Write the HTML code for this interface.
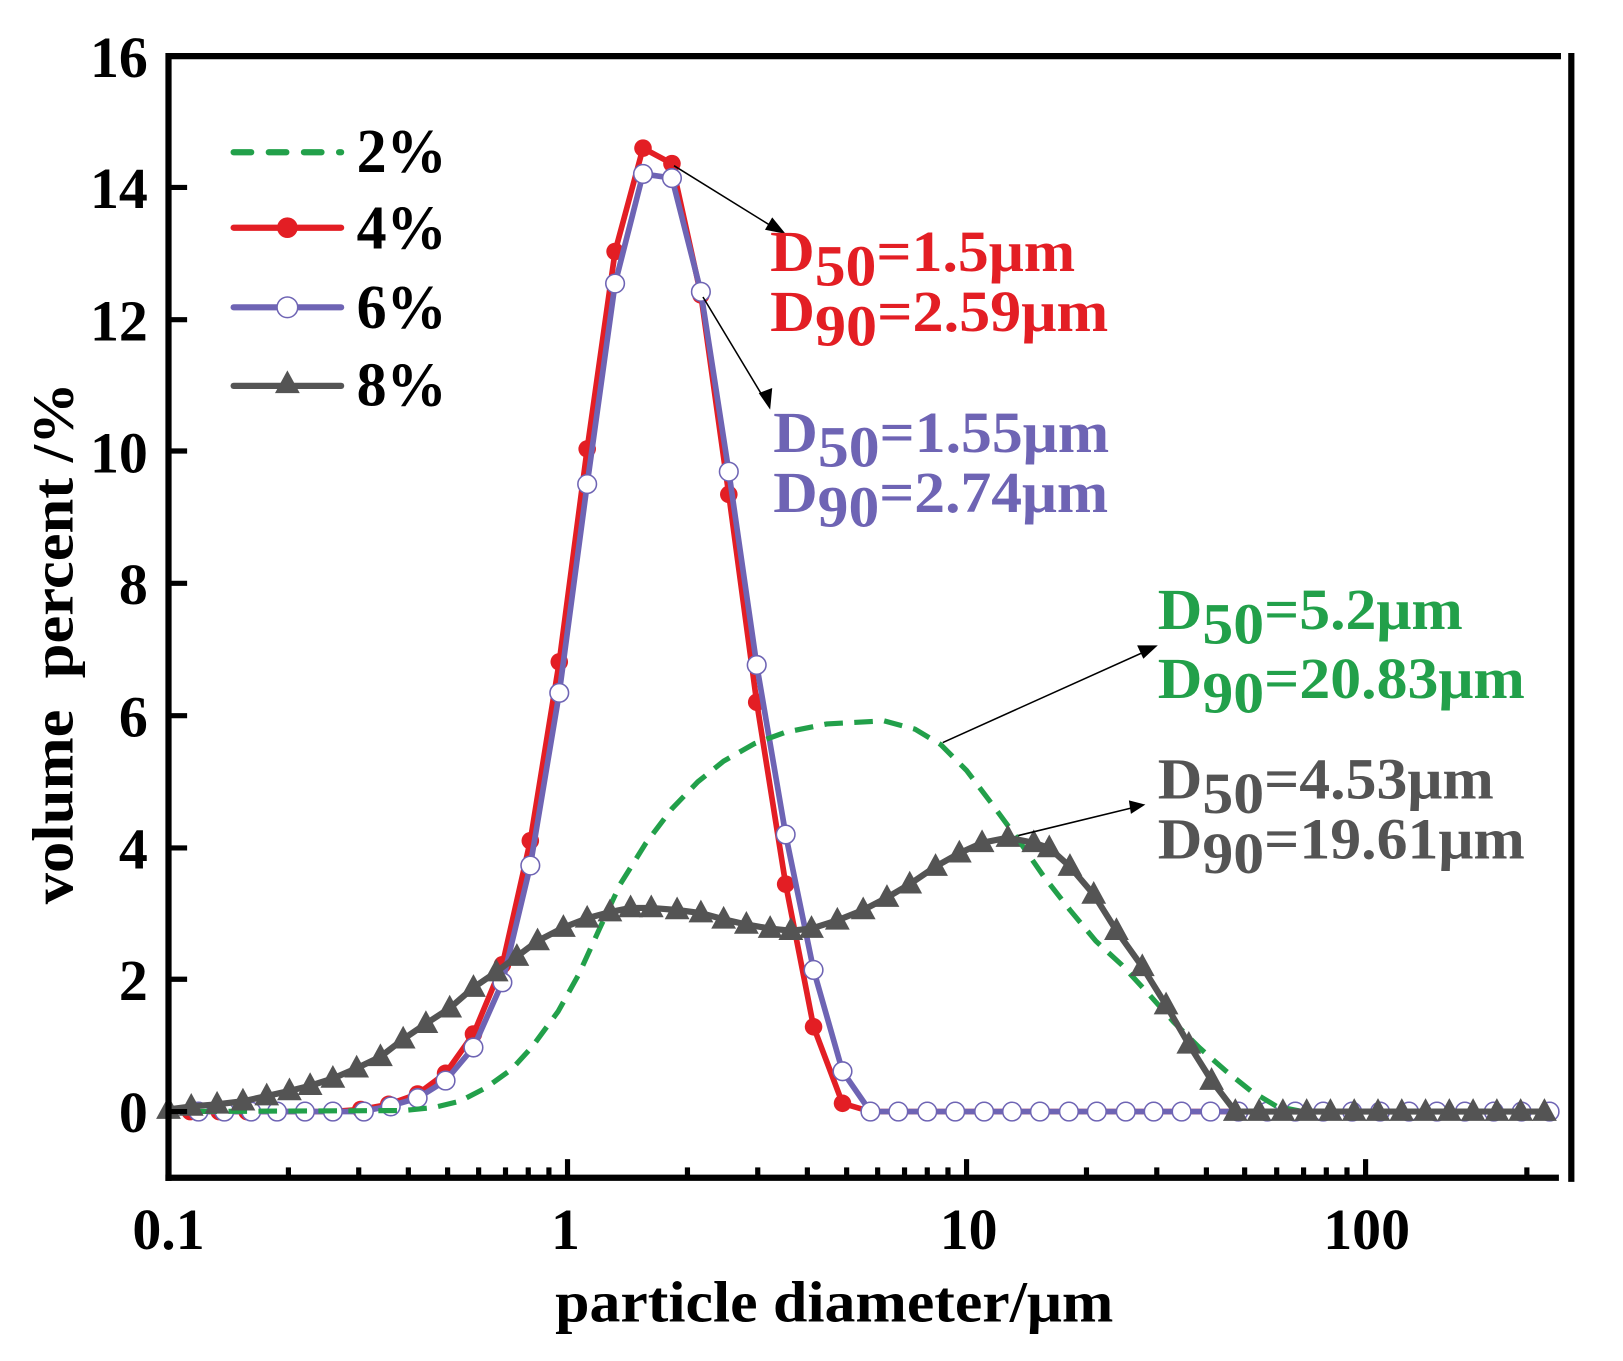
<!DOCTYPE html>
<html><head><meta charset="utf-8"><style>
html,body{margin:0;padding:0;background:#fff;}
svg{display:block;}
text{font-family:"Liberation Serif","Times New Roman",serif;font-weight:bold;}
</style></head><body>
<svg width="1623" height="1361" viewBox="0 0 1570 1316" xmlns="http://www.w3.org/2000/svg">
<defs>
<marker id="mr" markerUnits="userSpaceOnUse" markerWidth="22" markerHeight="22" refX="11" refY="11"><circle cx="11" cy="11" r="8.5" fill="#e31e24"/></marker>
<marker id="mb" markerUnits="userSpaceOnUse" markerWidth="24" markerHeight="24" refX="12" refY="12"><circle cx="12" cy="12" r="9" fill="#fff" stroke="#6e64b4" stroke-width="1.5"/></marker>
<marker id="mg" markerUnits="userSpaceOnUse" markerWidth="26" markerHeight="26" refX="13" refY="14"><polygon points="13,1 25,23 1,23" fill="#545454"/></marker>
</defs>
<polyline fill="none" stroke="#e31e24" stroke-width="5.5" stroke-linejoin="round" points="163,1075 321,1075 349,1073 376,1068 404,1058 431,1038 458,1000 486,933 513,813 541,640 568,434 595,243 622,143 650,158 678,285 705,478 732,679 760,855 787,993 815,1067 842,1075 1505,1075"/>
<polyline fill="none" stroke="none" marker-start="url(#mr)" marker-mid="url(#mr)" marker-end="url(#mr)" points="184,1075 212,1075 239,1075 267,1075 294,1075 321,1075 349,1073 376,1068 404,1058 431,1038 458,1000 486,933 513,813 541,640 568,434 595,243 622,143 650,158 678,285 705,478 732,679 760,855 787,993 815,1067 842,1075"/>
<polyline fill="none" stroke="#6e64b4" stroke-width="5.5" stroke-linejoin="round" points="163,1075 349,1075 376,1070 404,1062 431,1045 458,1013 486,950 513,837 541,670 568,468 595,274 622,168 650,172 678,282 705,456 732,643 760,807 787,938 815,1036 842,1075 1505,1075"/>
<polyline fill="none" stroke="none" marker-start="url(#mb)" marker-mid="url(#mb)" marker-end="url(#mb)" points="192,1075 217,1075 243,1075 268,1075 295,1075 322,1075 352,1075 378,1070 404,1062 431,1045 458,1013 486,950 513,837 541,670 568,468 595,274 622,168 650,172 678,282 705,456 732,643 760,807 787,938 815,1036 842,1075 869,1075 897,1075 924,1075 952,1075 979,1075 1006,1075 1034,1075 1061,1075 1089,1075 1116,1075 1143,1075 1171,1075 1198,1075 1226,1075 1253,1075 1280,1075 1308,1075 1335,1075 1363,1075 1390,1075 1417,1075 1445,1075 1472,1075 1499,1075"/>
<polyline fill="none" stroke="#22a04a" stroke-width="5" stroke-dasharray="18,11" stroke-linejoin="round" points="163,1075 390,1074 420,1071 445,1065 470,1052 495,1034 515,1012 540,978 560,942 580,898 600,855 625,815 650,782 675,756 700,736 730,719 760,708 800,700 855,697 885,705 910,720 935,745 960,778 985,812 1010,848 1035,880 1060,910 1085,933 1110,960 1135,988 1160,1013 1185,1035 1210,1055 1235,1070 1260,1075 1505,1075"/>
<polyline fill="none" stroke="#545454" stroke-width="6" stroke-linejoin="round" marker-start="url(#mg)" marker-mid="url(#mg)" marker-end="url(#mg)" points="163,1073 185,1070 210,1068 235,1065 258,1060 280,1055 300,1050 322,1043 345,1033 368,1022 390,1005 412,990 435,975 458,955 480,940 500,925 520,910 545,897 568,888 590,882 610,878 630,878 655,880 678,883 700,889 722,894 745,898 765,900 785,898 810,890 835,880 858,868 880,855 905,838 928,825 950,815 975,810 1000,815 1015,820 1035,838 1058,865 1080,900 1105,935 1128,972 1150,1010 1172,1045 1195,1075 1218,1075 1241,1075 1264,1075 1287,1075 1310,1075 1333,1075 1356,1075 1379,1075 1402,1075 1425,1075 1448,1075 1471,1075 1494,1075"/>
<g stroke="#000" fill="none">
<line x1="163" y1="54" x2="1510" y2="54" stroke-width="6"/>
<line x1="163" y1="51" x2="163" y2="1142" stroke-width="6"/>
<line x1="160" y1="1139" x2="1508" y2="1139" stroke-width="6"/>
<line x1="1520" y1="51" x2="1520" y2="1143" stroke-width="6"/>
</g>
<g stroke="#000" stroke-width="5">
<line x1="279" y1="1139" x2="279" y2="1129"/><line x1="347" y1="1139" x2="347" y2="1129"/><line x1="395" y1="1139" x2="395" y2="1129"/><line x1="433" y1="1139" x2="433" y2="1129"/><line x1="463" y1="1139" x2="463" y2="1129"/><line x1="489" y1="1139" x2="489" y2="1129"/><line x1="511" y1="1139" x2="511" y2="1129"/><line x1="531" y1="1139" x2="531" y2="1129"/><line x1="549" y1="1139" x2="549" y2="1121"/>
<line x1="665" y1="1139" x2="665" y2="1129"/><line x1="733" y1="1139" x2="733" y2="1129"/><line x1="781" y1="1139" x2="781" y2="1129"/><line x1="819" y1="1139" x2="819" y2="1129"/><line x1="849" y1="1139" x2="849" y2="1129"/><line x1="875" y1="1139" x2="875" y2="1129"/><line x1="897" y1="1139" x2="897" y2="1129"/><line x1="917" y1="1139" x2="917" y2="1129"/><line x1="935" y1="1139" x2="935" y2="1121"/>
<line x1="1051" y1="1139" x2="1051" y2="1129"/><line x1="1119" y1="1139" x2="1119" y2="1129"/><line x1="1167" y1="1139" x2="1167" y2="1129"/><line x1="1204" y1="1139" x2="1204" y2="1129"/><line x1="1235" y1="1139" x2="1235" y2="1129"/><line x1="1261" y1="1139" x2="1261" y2="1129"/><line x1="1283" y1="1139" x2="1283" y2="1129"/><line x1="1303" y1="1139" x2="1303" y2="1129"/><line x1="1321" y1="1139" x2="1321" y2="1121"/>
<line x1="1477" y1="1139" x2="1477" y2="1129"/>
<line x1="163" y1="1075" x2="181" y2="1075"/><line x1="163" y1="947" x2="181" y2="947"/><line x1="163" y1="820" x2="181" y2="820"/><line x1="163" y1="692" x2="181" y2="692"/><line x1="163" y1="564" x2="181" y2="564"/><line x1="163" y1="436" x2="181" y2="436"/><line x1="163" y1="309" x2="181" y2="309"/><line x1="163" y1="181" x2="181" y2="181"/>
</g>
<g font-size="56" text-anchor="end">
<text x="143" y="74">16</text><text x="143" y="201">14</text><text x="143" y="329">12</text>
<text x="143" y="457">10</text><text x="143" y="584">8</text><text x="143" y="712">6</text>
<text x="143" y="840">4</text><text x="143" y="967">2</text><text x="143" y="1095">0</text>
</g>
<g font-size="56" text-anchor="middle">
<text x="163" y="1208">0.1</text><text x="547" y="1208">1</text><text x="937" y="1208">10</text><text x="1322" y="1208">100</text>
</g>
<text x="537" y="1278" font-size="56" textLength="540" lengthAdjust="spacingAndGlyphs">particle diameter/μm</text>
<text transform="translate(70,622) rotate(-90)" font-size="56" text-anchor="middle" textLength="505" lengthAdjust="spacingAndGlyphs" xml:space="preserve">volume  percent /%</text>
<line x1="226" y1="147" x2="330" y2="147" stroke="#22a04a" stroke-width="6" stroke-dasharray="17,17" stroke-linecap="round"/>
<line x1="226" y1="220" x2="330" y2="220" stroke="#e31e24" stroke-width="6" stroke-linecap="round"/>
<circle cx="278" cy="220" r="10" fill="#e31e24"/>
<line x1="226" y1="297" x2="330" y2="297" stroke="#6e64b4" stroke-width="6" stroke-linecap="round"/>
<circle cx="278" cy="297" r="10" fill="#fff" stroke="#6e64b4" stroke-width="1.5"/>
<line x1="226" y1="373" x2="330" y2="373" stroke="#545454" stroke-width="6" stroke-linecap="round"/>
<polygon points="278,358 290,380 266,380" fill="#545454"/>
<g font-size="60">
<text x="345" y="166" textLength="87" lengthAdjust="spacingAndGlyphs">2%</text><text x="345" y="240" textLength="87" lengthAdjust="spacingAndGlyphs">4%</text><text x="345" y="317" textLength="87" lengthAdjust="spacingAndGlyphs">6%</text><text x="345" y="392" textLength="87" lengthAdjust="spacingAndGlyphs">8%</text>
</g>
<g stroke="#000" stroke-width="1.5">
<line x1="652" y1="160" x2="752" y2="222"/>
<line x1="680" y1="287" x2="742" y2="390"/>
<line x1="912" y1="718" x2="1112" y2="628"/>
<line x1="985" y1="808" x2="1100" y2="780"/>
</g>
<g fill="#000">
<polygon points="760,226 740,222 747,210"/>
<polygon points="745,396 734,380 747,375"/>
<polygon points="1120,624 1100,624 1106,637"/>
<polygon points="1108,778 1092,774 1094,787"/>
</g>
<g font-size="56">
<text x="745" y="262" fill="#e31e24" textLength="295" lengthAdjust="spacingAndGlyphs">D<tspan dy="14">50</tspan><tspan dy="-14">=1.5μm</tspan></text>
<text x="745" y="320" fill="#e31e24" textLength="327" lengthAdjust="spacingAndGlyphs">D<tspan dy="14">90</tspan><tspan dy="-14">=2.59μm</tspan></text>
<text x="748" y="437" fill="#6e64b4" textLength="325" lengthAdjust="spacingAndGlyphs">D<tspan dy="14">50</tspan><tspan dy="-14">=1.55μm</tspan></text>
<text x="748" y="495" fill="#6e64b4" textLength="324" lengthAdjust="spacingAndGlyphs">D<tspan dy="14">90</tspan><tspan dy="-14">=2.74μm</tspan></text>
<text x="1120" y="608" fill="#22a04a" textLength="295" lengthAdjust="spacingAndGlyphs">D<tspan dy="14">50</tspan><tspan dy="-14">=5.2μm</tspan></text>
<text x="1120" y="675" fill="#22a04a" textLength="355" lengthAdjust="spacingAndGlyphs">D<tspan dy="14">90</tspan><tspan dy="-14">=20.83μm</tspan></text>
<text x="1120" y="772" fill="#545454" textLength="325" lengthAdjust="spacingAndGlyphs">D<tspan dy="14">50</tspan><tspan dy="-14">=4.53μm</tspan></text>
<text x="1120" y="830" fill="#545454" textLength="355" lengthAdjust="spacingAndGlyphs">D<tspan dy="14">90</tspan><tspan dy="-14">=19.61μm</tspan></text>
</g>
</svg>
</body></html>
